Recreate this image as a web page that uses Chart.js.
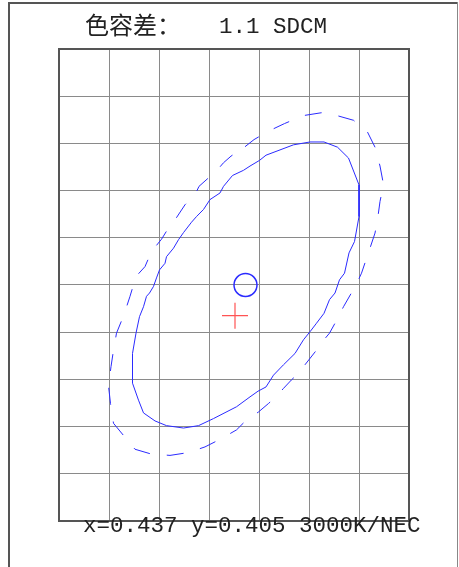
<!DOCTYPE html>
<html>
<head>
<meta charset="utf-8">
<script src="https://cdn.jsdelivr.net/npm/chart.js@4/dist/chart.umd.min.js"></script>
<style>
  html, body { margin: 0; padding: 0; background: #fff; overflow: hidden; }
  canvas { display: block; }
</style>
</head>
<body>
<canvas id="sdcmChart" width="459" height="567"></canvas>
<script>
// chromaticity window (CIE 1931 x / y), one grid cell = 0.001
const xTicks = [0.433, 0.434, 0.435, 0.436, 0.437, 0.438, 0.439, 0.440];
const yTicks = [0.400, 0.401, 0.402, 0.403, 0.404, 0.405, 0.406, 0.407, 0.408, 0.409, 0.410];

// inner (solid) ellipse
const solidX = [
    0.43669, 0.43682, 0.43701, 0.43714, 0.43769, 0.43802, 0.43830, 0.43857, 0.43879, 0.43900,
    0.43900, 0.43891, 0.43880, 0.43871, 0.43861, 0.43852, 0.43841, 0.43830, 0.43815, 0.43802,
    0.43789, 0.43772, 0.43749, 0.43729, 0.43714, 0.43698, 0.43682, 0.43655, 0.43609, 0.43579,
    0.43549, 0.43515, 0.43492, 0.43469, 0.43459, 0.43447, 0.43447, 0.43454, 0.43461, 0.43469,
    0.43475, 0.43481, 0.43489, 0.43495, 0.43501, 0.43512, 0.43515, 0.43529, 0.43539, 0.43549,
    0.43565, 0.43575, 0.43589, 0.43602, 0.43622, 0.43629, 0.43647
];
const solidY = [
    0.40743, 0.40752, 0.40764, 0.40775, 0.40797, 0.40803, 0.40803, 0.40792, 0.40769, 0.40712,
    0.40645, 0.40592, 0.40568, 0.40525, 0.40511, 0.40483, 0.40469, 0.40440, 0.40419, 0.40401,
    0.40384, 0.40355, 0.40331, 0.40309, 0.40284, 0.40275, 0.40263, 0.40242, 0.40217, 0.40202,
    0.40197, 0.40202, 0.40212, 0.40229, 0.40256, 0.40292, 0.40355, 0.40398, 0.40433, 0.40454,
    0.40476, 0.40483, 0.40497, 0.40515, 0.40532, 0.40546, 0.40560, 0.40578, 0.40596, 0.40611,
    0.40633, 0.40645, 0.40660, 0.40681, 0.40695, 0.40709, 0.40732
];

// outer (dashed) ellipse
const dashedX = [
    0.43672, 0.43690, 0.43719, 0.43751, 0.43789, 0.43825, 0.43859, 0.43889, 0.43917, 0.43932,
    0.43942, 0.43949, 0.43942, 0.43937, 0.43932, 0.43921, 0.43905, 0.43894, 0.43869, 0.43852,
    0.43841, 0.43830, 0.43815, 0.43789, 0.43775, 0.43765, 0.43749, 0.43734, 0.43719, 0.43699,
    0.43675, 0.43655, 0.43622, 0.43592, 0.43559, 0.43522, 0.43484, 0.43452, 0.43430, 0.43409,
    0.43403, 0.43399, 0.43404, 0.43409, 0.43415, 0.43430, 0.43442, 0.43454, 0.43472, 0.43485,
    0.43505, 0.43515, 0.43532, 0.43552, 0.43572, 0.43580, 0.43599, 0.43612, 0.43629, 0.43644
];
const dashedY = [
    0.40793, 0.40808, 0.40826, 0.40842, 0.40859, 0.40865, 0.40858, 0.40849, 0.40824, 0.40792,
    0.40752, 0.40713, 0.40677, 0.40638, 0.40610, 0.40575, 0.40525, 0.40500, 0.40454, 0.40419,
    0.40398, 0.40384, 0.40362, 0.40327, 0.40309, 0.40299, 0.40281, 0.40263, 0.40249, 0.40231,
    0.40214, 0.40193, 0.40173, 0.40157, 0.40145, 0.40139, 0.40142, 0.40152, 0.40180, 0.40207,
    0.40249, 0.40286, 0.40327, 0.40362, 0.40398, 0.40437, 0.40476, 0.40518, 0.40539, 0.40571,
    0.40597, 0.40614, 0.40638, 0.40670, 0.40691, 0.40709, 0.40727, 0.40738, 0.40759, 0.40773
];

const targetPoint = { x: 0.43673, y: 0.40500 };   // circle
const measuredPoint = { x: 0.43652, y: 0.40435 }; // red cross

const titleLabel = "色容差：";
const titleValue = "1.1 SDCM";
const footerText = "x=0.437 y=0.405 3000K/NEC";

const BLUE = "#2b2bff";

const toPoints = (xs, ys) => {
    const pts = xs.map((x, i) => ({ x, y: ys[i] }));
    pts.push(pts[0]); // close the loop
    return pts;
};

const framePlugin = {
    id: "frame",
    beforeDraw(chart) {
        const { ctx } = chart;
        ctx.save();
        ctx.fillStyle = "#fff";
        ctx.fillRect(0, 0, chart.width, chart.height);
        ctx.restore();
    },
    afterDraw(chart) {
        const { ctx, chartArea: a } = chart;
        ctx.save();
        // outer frame (bottom edge is off the picture)
        ctx.strokeStyle = "#555";
        ctx.lineWidth = 2;
        ctx.beginPath();
        ctx.moveTo(9, chart.height + 2);
        ctx.lineTo(9, 3);
        ctx.lineTo(457, 3);
        ctx.stroke();
        ctx.strokeStyle = "#888";
        ctx.lineWidth = 1;
        ctx.beginPath();
        ctx.moveTo(457.5, 2);
        ctx.lineTo(457.5, chart.height + 2);
        ctx.stroke();

        // plot border
        ctx.strokeStyle = "#555";
        ctx.lineWidth = 2;
        ctx.strokeRect(a.left, a.top, a.right - a.left, a.bottom - a.top);

        // texts
        ctx.fillStyle = "#222";
        ctx.textBaseline = "alphabetic";
        ctx.font = '24px "Noto Sans CJK SC"';
        ctx.fillText(titleLabel, 85, 34);
        ctx.font = '22.5px "Liberation Mono", monospace';
        ctx.fillText(titleValue, 219, 33);
        ctx.fillText(footerText, 83, 532);
        ctx.restore();
    }
};

new Chart(document.getElementById("sdcmChart"), {
    type: "scatter",
    data: {
        datasets: [
            {
                label: "solid",
                data: toPoints(solidX, solidY),
                showLine: true,
                borderColor: BLUE,
                borderWidth: 1,
                pointRadius: 0,
                tension: 0,
            },
            {
                label: "dashed",
                data: toPoints(dashedX, dashedY),
                showLine: true,
                borderColor: BLUE,
                borderWidth: 1,
                borderDash: [17, 17],
                pointRadius: 0,
                tension: 0,
            },
            {
                label: "target",
                data: [targetPoint],
                pointStyle: "circle",
                pointRadius: 11.5,
                borderColor: BLUE,
                borderWidth: 1.5,
                backgroundColor: "transparent",
            },
            {
                label: "measured",
                data: [measuredPoint],
                pointStyle: "cross",
                pointRadius: 13,
                borderColor: "rgba(255,40,40,0.8)",
                borderWidth: 1.2,
            }
        ]
    },
    options: {
        responsive: false,
        animation: false,
        events: [],
        layout: { padding: { left: 59, top: 49, right: 50, bottom: 46 } },
        plugins: {
            legend: { display: false },
            tooltip: { enabled: false },
            title: { display: false }
        },
        scales: {
            x: {
                type: "linear",
                min: xTicks[0], max: xTicks[xTicks.length - 1],
                afterBuildTicks: s => { s.ticks = xTicks.map(v => ({ value: v })); },
                afterFit: s => { s.height = 0; },
                ticks: { display: false },
                grid: { color: "#8a8a8a", lineWidth: 1, drawTicks: false },
                border: { display: false }
            },
            y: {
                type: "linear",
                min: yTicks[0], max: yTicks[yTicks.length - 1],
                afterBuildTicks: s => { s.ticks = yTicks.map(v => ({ value: v })); },
                afterFit: s => { s.width = 0; },
                ticks: { display: false },
                grid: { color: "#8a8a8a", lineWidth: 1, drawTicks: false },
                border: { display: false }
            }
        }
    },
    plugins: [framePlugin]
});
</script>
</body>
</html>
